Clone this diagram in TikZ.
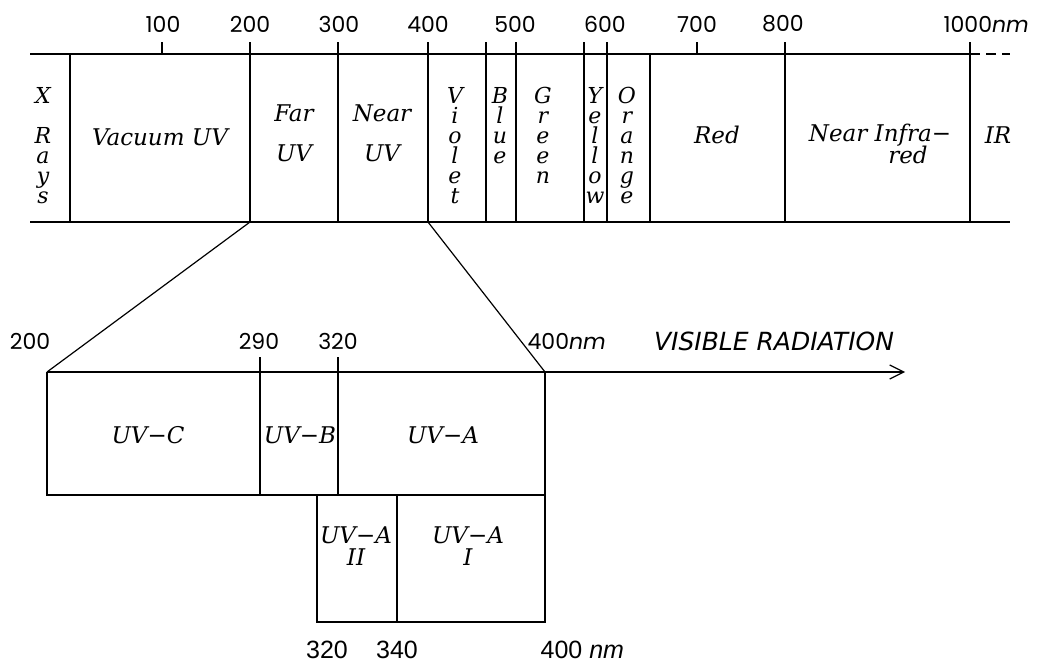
\documentclass[tikz,border=0pt]{standalone}
\usepackage{fontspec}
\usepackage{tikz}
\usetikzlibrary{arrows.meta}
\newfontfamily\numfont{Poppins}
\newfontfamily\botfont{Liberation Sans}
\newfontfamily\lblfont{DejaVu Serif}
\newfontfamily\capfont{DejaVu Sans}

\begin{document}
\begin{tikzpicture}[
  x=0.5pt, y=-0.5pt, line width=0.6pt,
  num/.style={font=\numfont\fontsize{11}{13}\selectfont, inner sep=0pt},
  bnum/.style={font=\botfont\fontsize{12.5}{14}\selectfont, inner sep=0pt},
  lbl/.style={font=\lblfont\itshape\fontsize{11.5}{20}\selectfont, align=center, inner sep=0pt},
  stack/.style={font=\lblfont\itshape\fontsize{11}{10}\selectfont, align=center, anchor=north, inner sep=0pt},
  arr/.style={-{Straight Barb[length=7pt,width=7pt]}}]
\useasboundingbox (0,0) rectangle (1040,669);

\draw (30,54) -- (970,54);
\draw[dash pattern=on 5pt off 3pt] (970,54) -- (1010,54);
\draw (30,222) -- (1010,222);
\foreach \x in {70,250,338,428,486,516,584,607,650,785,970} \draw (\x,54) -- (\x,222);
\foreach \x in {162,250,338,428,486,516,584,607,697,785,970} \draw (\x,42) -- (\x,54);
\foreach \x/\t in {163/100,250/200,339/300,428/400,515/500,605/600,697/700,783/800}
  \node[num] (n\t) at (\x,24) {\t};
\node[num, anchor=west] (n1000) at (943,24) {1000\textit{nm}};

\node[stack] (xray) at (43,87) {X\\[10pt]R\\a\\y\\s};
\node[lbl] (vac) at (160,137) {Vacuum UV};
\node[lbl] (far) at (294,133) {Far\\UV};
\node[lbl] (nearuv) at (382,133) {Near\\UV};
\node[stack] (violet) at (455,87) {V\\i\\o\\l\\e\\t};
\node[stack] (blue) at (500,87) {B\\l\\u\\e};
\node[stack] (green) at (543,87) {G\\r\\e\\e\\n};
\node[stack] (yellow) at (595,87) {Y\\e\\l\\l\\o\\w};
\node[stack] (orange) at (627,87) {O\\r\\a\\n\\g\\e};
\node[lbl] (red) at (717,135) {Red};
\node[lbl] (nir) at (880,135) {Near Infra−};
\node[lbl] (nirb) at (908,155) {red};
\node[lbl] (ir) at (998,135) {IR};

\coordinate (b200) at (250,222);
\coordinate (b400) at (428,222);
\coordinate (c200) at (47,372);
\coordinate (c400) at (545,372);
\coordinate (aend) at (905,372);
\draw (b200) -- (c200);
\draw (b400) -- (c400);
\draw[arr] (c200) -- (aend);
\draw (c200) -- (47,495) -- (545,495);
\draw (c400) -- (545,622) -- (317,622) -- (317,495);
\foreach \x in {260,338} \draw (\x,357) -- (\x,495);
\draw (397,495) -- (397,622);

\node[num] (m200) at (30,341) {200};
\node[num] (m290) at (259,341) {290};
\node[num] (m320) at (338,341) {320};
\node[num, anchor=west] (m400) at (527,341) {400\textit{nm}};
\node[font=\capfont\itshape\fontsize{12.5}{14}\selectfont, inner sep=0pt] (vis) at (774,341) {VISIBLE RADIATION};

\node[lbl] (uvc) at (148,435) {UV−C};
\node[lbl] (uvb) at (300,435) {UV−B};
\node[lbl] (uva) at (443,435) {UV−A};
\node[lbl, font=\lblfont\itshape\fontsize{11.5}{11}\selectfont] (uva2) at (356,546) {UV−A\\II};
\node[lbl, font=\lblfont\itshape\fontsize{11.5}{11}\selectfont] (uva1) at (468,546) {UV−A\\I};

\node[bnum] (l320) at (327,650) {320};
\node[bnum] (l340) at (397,650) {340};
\node[bnum, anchor=west] (l400) at (540,650) {400 \textit{nm}};
\end{tikzpicture}
\end{document}
